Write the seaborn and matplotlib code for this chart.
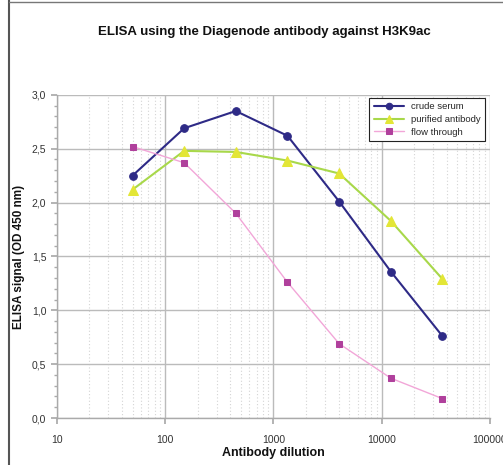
import numpy as np
import pandas as pd
import seaborn as sns
import matplotlib
matplotlib.use("Agg")
import matplotlib.pyplot as plt
from matplotlib.ticker import FuncFormatter, LogLocator, MultipleLocator
from matplotlib.lines import Line2D

dilutions = [50, 150, 450, 1350, 4050, 12150, 36450]
crude_serum = [2.25, 2.69, 2.85, 2.62, 2.01, 1.36, 0.76]
purified_antibody = [2.12, 2.48, 2.47, 2.39, 2.27, 1.83, 1.29]
flow_through = [2.52, 2.37, 1.90, 1.26, 0.69, 0.37, 0.18]
series_names = ["crude serum", "purified antibody", "flow through"]

df = pd.DataFrame({
    "dilution": dilutions * 3,
    "signal": crude_serum + purified_antibody + flow_through,
    "series": np.repeat(series_names, len(dilutions)),
})

sns.set_theme(style="white")
plt.rcParams["font.family"] = ["Liberation Sans", "DejaVu Sans"]

fig = plt.figure(figsize=(5.03, 4.65), dpi=100)
ax = fig.add_axes([0.113, 0.101, 0.861, 0.695])

line_colors = {"crude serum": "#2E2A86", "purified antibody": "#A8D84A", "flow through": "#F2A6D8"}
marker_face = {"crude serum": "#2E2A86", "purified antibody": "#E3E636", "flow through": "#B0409C"}
markers = {"crude serum": "o", "purified antibody": "^", "flow through": "s"}
sizes = {"crude serum": 5.5, "purified antibody": 6.5, "flow through": 4.8}
widths = {"crude serum": 1.5, "purified antibody": 1.5, "flow through": 1.0}

for name in series_names:
    sub = df[df["series"] == name]
    sns.lineplot(data=sub, x="dilution", y="signal", ax=ax, color=line_colors[name],
                 linewidth=widths[name], marker=markers[name], markersize=sizes[name],
                 markerfacecolor=marker_face[name], markeredgecolor=marker_face[name],
                 label=name, zorder=3)

ax.set_xscale("log")
ax.set_xlim(10, 100000)
ax.set_ylim(0, 3.0)
ax.xaxis.set_major_locator(LogLocator(base=10, numticks=10))
ax.xaxis.set_minor_locator(LogLocator(base=10, subs=np.arange(2, 10), numticks=20))
ax.xaxis.set_major_formatter(FuncFormatter(lambda v, p: f"{int(round(v))}"))
ax.xaxis.set_minor_formatter(FuncFormatter(lambda v, p: ""))
ax.yaxis.set_major_locator(MultipleLocator(0.5))
ax.yaxis.set_minor_locator(MultipleLocator(0.1))
ax.yaxis.set_major_formatter(FuncFormatter(lambda v, p: f"{v:.1f}".replace(".", ",")))

ax.grid(which="major", color="#BBBBBB", linewidth=1.0, linestyle="-", zorder=0)
ax.grid(which="minor", axis="x", color="#D4D4D4", linewidth=0.8, linestyle=(0, (1, 2)), zorder=0)

for side in ["top", "right"]:
    ax.spines[side].set_visible(False)
for side in ["left", "bottom"]:
    ax.spines[side].set_color("#AAAAAA")
    ax.spines[side].set_linewidth(1.0)

ax.tick_params(axis="both", which="major", labelsize=7.5, colors="#333333", length=4,
               direction="out", bottom=True, left=True, color="#AAAAAA")
ax.tick_params(axis="y", which="minor", length=2, left=True, color="#AAAAAA")
ax.tick_params(axis="x", which="minor", length=0)
ax.tick_params(axis="x", pad=8)

ax.set_xlabel("Antibody dilution", fontsize=9, fontweight="bold", color="#111111", labelpad=2)
ax.set_ylabel("ELISA signal (OD 450 nm)", fontsize=8.5, fontweight="bold", color="#111111", labelpad=5)

fig.text(0.525, 0.932, "ELISA using the Diagenode antibody against H3K9ac",
         ha="center", va="center", fontsize=9.5, fontweight="bold", color="#111111")

leg = ax.legend(loc="upper right", bbox_to_anchor=(1.0, 1.005), fontsize=6.8, frameon=True,
                fancybox=False, edgecolor="#222222", framealpha=1, borderpad=0.45,
                handlelength=3.2, labelspacing=0.4, markerscale=0.85)
leg.get_frame().set_linewidth(0.8)

fig.add_artist(Line2D([0.017, 0.017], [0, 1], transform=fig.transFigure, color="#555555", linewidth=1.5))
fig.add_artist(Line2D([0.017, 1], [0.996, 0.996], transform=fig.transFigure, color="#777777", linewidth=1.0))

fig.savefig("out.png", dpi=100)
